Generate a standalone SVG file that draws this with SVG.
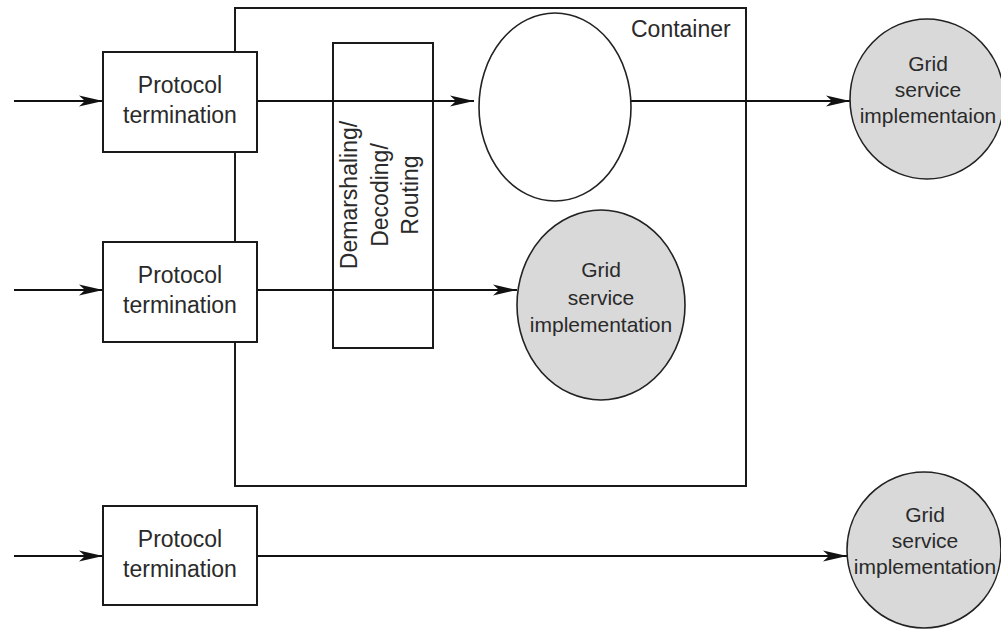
<svg xmlns="http://www.w3.org/2000/svg" width="1001" height="632" viewBox="0 0 1001 632">
<defs>
<marker id="arr" markerWidth="26" markerHeight="12" refX="24" refY="6" orient="auto" markerUnits="userSpaceOnUse">
<path d="M0,0.5 L24,6 L0,11.5 L6,6 z" fill="#111"/>
</marker>
<style>
.box{fill:#fff;stroke:#1a1a1a;stroke-width:2}
.open{fill:none;stroke:#1a1a1a;stroke-width:2}
.ell{fill:#fff;stroke:#222;stroke-width:1.6}
.grid{fill:#d9d9d9;stroke:#222;stroke-width:1.6}
.ln{fill:none;stroke:#111;stroke-width:2}
text{font-family:"Liberation Sans",Arial,sans-serif;fill:#2a2a2a;text-anchor:middle}
.pt{font-size:23px}
.gt{font-size:21px}
.ct{font-size:23px;text-anchor:start}
</style>
</defs>
<rect width="1001" height="632" fill="#fff"/>
<g id="container">
<rect class="open" x="235" y="8" width="511" height="478"/>
<text class="ct" x="631" y="37">Container</text>
</g>
<g id="demarshaling">
<rect class="open" x="333" y="43" width="100" height="305"/>
<text class="pt" transform="translate(357,195) rotate(-90)">Demarshaling/</text>
<text class="pt" transform="translate(388,195) rotate(-90)">Decoding/</text>
<text class="pt" transform="translate(418,195) rotate(-90)">Routing</text>
</g>
<g id="connectors">
<line class="ln" x1="14" y1="101" x2="103" y2="101" marker-end="url(#arr)"/>
<line class="ln" x1="14" y1="290" x2="103" y2="290" marker-end="url(#arr)"/>
<line class="ln" x1="14" y1="556" x2="103" y2="556" marker-end="url(#arr)"/>
<line class="ln" x1="257" y1="101" x2="474" y2="101" marker-end="url(#arr)"/>
<line class="ln" x1="257" y1="290" x2="517" y2="290" marker-end="url(#arr)"/>
<line class="ln" x1="257" y1="556" x2="847" y2="556" marker-end="url(#arr)"/>
<line class="ln" x1="631" y1="101" x2="850" y2="101" marker-end="url(#arr)"/>
</g>
<g id="pt1">
<rect class="box" x="103" y="52" width="154" height="100"/>
<text class="pt" x="180" y="93">Protocol</text>
<text class="pt" x="180" y="123">termination</text>
</g>
<g id="pt2">
<rect class="box" x="103" y="242" width="154" height="100"/>
<text class="pt" x="180" y="283">Protocol</text>
<text class="pt" x="180" y="313">termination</text>
</g>
<g id="pt3">
<rect class="box" x="103" y="506" width="154" height="99"/>
<text class="pt" x="180" y="547">Protocol</text>
<text class="pt" x="180" y="577">termination</text>
</g>
<g id="empty-ellipse">
<ellipse class="ell" cx="555" cy="107" rx="76" ry="94"/>
</g>
<g id="grid-inner">
<ellipse class="grid" cx="601" cy="305" rx="84" ry="95"/>
<text class="gt" x="601" y="277">Grid</text>
<text class="gt" x="601" y="305">service</text>
<text class="gt" x="601" y="332">implementation</text>
</g>
<g id="grid-top">
<ellipse class="grid" cx="927" cy="99" rx="77" ry="80"/>
<text class="gt" x="928" y="71">Grid</text>
<text class="gt" x="928" y="97">service</text>
<text class="gt" x="928" y="123">implementaion</text>
</g>
<g id="grid-bottom">
<ellipse class="grid" cx="924" cy="550" rx="77" ry="78"/>
<text class="gt" x="925" y="522">Grid</text>
<text class="gt" x="925" y="548">service</text>
<text class="gt" x="925" y="574">implementation</text>
</g>
</svg>
